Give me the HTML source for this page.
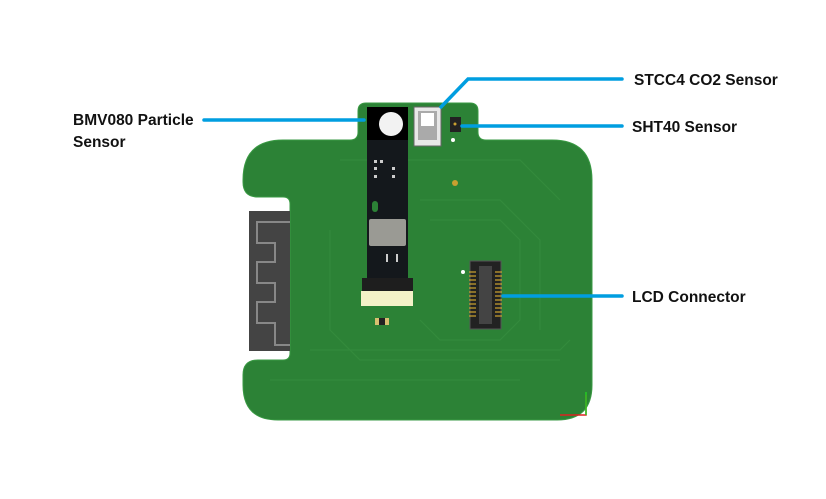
<!DOCTYPE html>
<html><head><meta charset="utf-8"><style>
html,body{margin:0;padding:0;background:#fff;}
svg{display:block}
text{font-family:"Liberation Sans",sans-serif;font-weight:bold;font-size:15.5px;fill:#111}
</style></head><body>
<svg width="826" height="499" viewBox="0 0 826 499" xmlns="http://www.w3.org/2000/svg">
<rect width="826" height="499" fill="#fff"/>
<path d="M243 180 Q243 140 283 140 L350 140 Q358 140 358 132 L358 111 Q358 103 366 103 L470 103 Q478 103 478 111 L478 132 Q478 140 486 140 L552 140 Q592 140 592 180 L592 385 Q592 420 557 420 L278 420 Q243 420 243 385 L243 375 Q243 360 258 360 L283 360 Q290 360 290 353 L290 204 Q290 197 283 197 L258 197 Q243 197 243 182 Z" fill="#2c8236" stroke="#3a9a44" stroke-width="1"/>
<g fill="none" stroke="#3a9142" stroke-width="1.2" opacity="0.55">
<path d="M340 160 L520 160 L560 200"/>
<path d="M330 230 L330 330 L360 360 L560 360"/>
<path d="M420 200 L500 200 L540 240 L540 330"/>
<path d="M430 220 L500 220 L520 240 L520 320 L500 340 L440 340 L420 320"/>
<path d="M270 380 L520 380"/>
<path d="M310 350 L560 350 L570 340"/>
</g>
<rect x="249" y="211" width="41" height="140" fill="#444"/>
<path d="M290 222 L257 222 L257 243 L275 243 L275 262 L257 262 L257 283 L275 283 L275 302 L257 302 L257 323 L275 323 L275 345 L290 345" fill="none" stroke="#888" stroke-width="2"/>
<rect x="367" y="107" width="41" height="175" fill="#14181c"/>
<rect x="367" y="107" width="41" height="33" fill="#000"/>
<circle cx="391" cy="124" r="12" fill="#f2f2f2"/>
<rect x="369" y="219" width="37" height="27" fill="#9a9a94" rx="2"/>
<rect x="372" y="201" width="6" height="11" rx="3" fill="#2c8236"/>
<g fill="#ccc"><rect x="374" y="160" width="3" height="3"/><rect x="380" y="160" width="3" height="3"/><rect x="374" y="167" width="3" height="3"/><rect x="392" y="167" width="3" height="3"/><rect x="374" y="175" width="3" height="3"/><rect x="392" y="175" width="3" height="3"/><rect x="386" y="254" width="2" height="8"/><rect x="396" y="254" width="2" height="8"/></g>
<rect x="362" y="278" width="51" height="13" fill="#1e1e1e"/>
<rect x="361" y="291" width="52" height="15" fill="#f4f2c8"/>
<rect x="375" y="318" width="14" height="7" fill="#d8c070"/><rect x="379" y="318" width="6" height="7" fill="#222"/>
<rect x="414" y="107" width="27" height="39" fill="#e8e8e8" stroke="#666" stroke-width="1"/>
<rect x="418" y="111" width="19" height="29" fill="#aaa"/>
<rect x="421" y="113" width="13" height="13" fill="#fff"/>
<rect x="450" y="117" width="11" height="15" fill="#222"/>
<circle cx="455" cy="124" r="1.5" fill="#c9a030"/>
<circle cx="453" cy="140" r="2" fill="#fff"/>
<circle cx="455" cy="183" r="3" fill="#c9a030"/>
<circle cx="463" cy="272" r="2" fill="#fff"/>
<rect x="470" y="261" width="31" height="68" fill="#222" stroke="#555"/>
<rect x="479" y="266" width="13" height="58" fill="#444"/>
<g stroke="#c9a030" stroke-width="1.3">
<path d="M469 272 H476 M469 276 H476 M469 280 H476 M469 284 H476 M469 288 H476 M469 292 H476 M469 296 H476 M469 300 H476 M469 304 H476 M469 308 H476 M469 312 H476 M469 316 H476"/>
<path d="M495 272 H502 M495 276 H502 M495 280 H502 M495 284 H502 M495 288 H502 M495 292 H502 M495 296 H502 M495 300 H502 M495 304 H502 M495 308 H502 M495 312 H502 M495 316 H502"/>
</g>
<path d="M586 395 V415 H560" fill="none" stroke="#d22" stroke-width="1.5"/>
<path d="M586 415 V392" stroke="#2c2" stroke-width="1.5"/>
<g stroke="#009ee0" stroke-width="3.5" fill="none" stroke-linecap="round">
<path d="M204 120 H364"/>
<path d="M441 107 L468 79 H622"/>
<path d="M462 126 H622"/>
<path d="M503 296 H622"/>
</g>
<text x="73" y="125">BMV080 Particle</text>
<text x="73" y="147">Sensor</text>
<text x="634" y="85">STCC4 CO2 Sensor</text>
<text x="632" y="132">SHT40 Sensor</text>
<text x="632" y="302">LCD Connector</text>
</svg>
</body></html>
